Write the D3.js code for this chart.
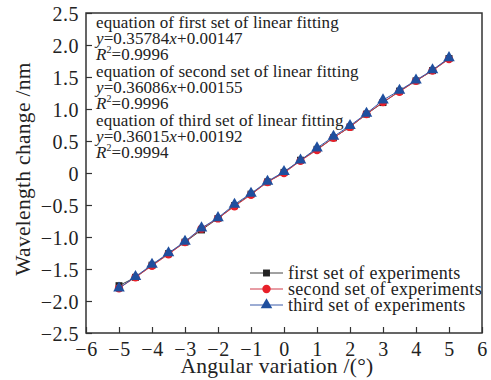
<!DOCTYPE html>
<html>
<head>
<meta charset="utf-8">
<script src="https://cdn.jsdelivr.net/npm/d3@7"></script>
<style>
  body { margin: 0; background: #fff; }
  svg text { font-family: "Liberation Serif", "DejaVu Serif", serif !important; fill: #222; }
</style>
</head>
<body>
<div id="chart"></div>
<script>
// angle steps and the three measured series
const angles = [-5, -4.5, -4, -3.5, -3, -2.5, -2, -1.5, -1, -0.5, 0, 0.5, 1, 1.5, 2, 2.5, 3, 3.5, 4, 4.5, 5];
const firstSet = [-1.76, -1.63, -1.44, -1.26, -1.08, -0.89, -0.71, -0.51, -0.33, -0.14, 0.01, 0.20, 0.37, 0.55, 0.72, 0.92, 1.10, 1.28, 1.44, 1.60, 1.79];
const secondSet = [-1.80, -1.63, -1.45, -1.27, -1.08, -0.87, -0.71, -0.52, -0.34, -0.14, 0.00, 0.19, 0.36, 0.55, 0.72, 0.92, 1.11, 1.27, 1.44, 1.60, 1.78];
const thirdSet = [-1.80, -1.62, -1.43, -1.25, -1.07, -0.86, -0.70, -0.49, -0.32, -0.13, 0.02, 0.20, 0.39, 0.57, 0.74, 0.93, 1.14, 1.29, 1.45, 1.61, 1.80];
const seriesNames = ["first set of experiments", "second set of experiments", "third set of experiments"];
const xTicks = [-6, -5, -4, -3, -2, -1, 0, 1, 2, 3, 4, 5, 6];
const yTicks = [-2.5, -2.0, -1.5, -1.0, -0.5, 0, 0.5, 1.0, 1.5, 2.0, 2.5];
const fitNames = ["first", "second", "third"];
const fitSlopes = ["0.35784", "0.36086", "0.36015"];
const fitIntercepts = ["0.00147", "0.00155", "0.00192"];
const fitR2 = ["0.9996", "0.9996", "0.9994"];

const width = 491, height = 380;
const margin = { left: 86, right: 9, top: 13, bottom: 47 };
const serif = "'Liberation Serif', 'DejaVu Serif', serif";

const svg = d3.select("#chart").append("svg")
  .attr("width", width)
  .attr("height", height)
  .attr("font-family", serif);

const x = d3.scaleLinear().domain([-6, 6]).range([margin.left, width - margin.right]);
const y = d3.scaleLinear().domain([-2.5, 2.5]).range([height - margin.bottom, margin.top]);

// axes, ticks pointing inward
const xAxis = d3.axisBottom(x).tickValues(xTicks).tickSizeInner(-6).tickSizeOuter(0)
  .tickPadding(9).tickFormat(d3.format("d"));
const yAxis = d3.axisLeft(y).tickValues(yTicks).tickSizeInner(-6).tickSizeOuter(0)
  .tickPadding(7).tickFormat(d => d === 0 ? "0" : d3.format(".1f")(d));

const gx = svg.append("g")
  .attr("transform", `translate(0, ${height - margin.bottom})`)
  .call(xAxis);
const gy = svg.append("g")
  .attr("transform", `translate(${margin.left}, 0)`)
  .call(yAxis);
[gx, gy].forEach(g => {
  g.attr("font-family", serif);
  g.select(".domain").remove();
  g.selectAll(".tick line").attr("stroke", "#333").attr("stroke-width", 1.2);
  g.selectAll(".tick text").attr("font-size", 20).attr("fill", "#222")
    .attr("letter-spacing", 0.5);
});
gy.selectAll(".tick text").attr("dy", "0.36em");

// frame
svg.append("rect")
  .attr("x", margin.left).attr("y", margin.top)
  .attr("width", width - margin.left - margin.right)
  .attr("height", height - margin.top - margin.bottom)
  .attr("fill", "none").attr("stroke", "#333").attr("stroke-width", 1.5);

// axis titles
svg.append("text")
  .attr("x", 277).attr("y", 373)
  .attr("text-anchor", "middle").attr("font-size", 21.5)
  .attr("letter-spacing", 0.3)
  .text("Angular variation /(°)");
svg.append("text")
  .attr("transform", "translate(30, 169) rotate(-90)")
  .attr("text-anchor", "middle").attr("font-size", 21.5)
  .attr("letter-spacing", 0.3)
  .text("Wavelength change /nm");

// series
const series = [
  { name: seriesNames[0], values: firstSet, color: "#222222", line: "#444444", shape: d3.symbolSquare, size: 48 },
  { name: seriesNames[1], values: secondSet, color: "#e8202a", line: "#d03a4a", shape: d3.symbolCircle, size: 55 },
  { name: seriesNames[2], values: thirdSet, color: "#1f4f9e", line: "#3b5aa8", shape: d3.symbolTriangle, size: 58 }
];

const line = d3.line()
  .x(d => x(d[0]))
  .y(d => y(d[1]));

series.forEach(s => {
  const pts = angles.map((a, i) => [a, s.values[i]]);
  svg.append("path")
    .datum(pts)
    .attr("fill", "none")
    .attr("stroke", s.line)
    .attr("stroke-width", 1)
    .attr("d", line);
  svg.append("g").selectAll("path")
    .data(pts)
    .join("path")
    .attr("transform", d => `translate(${x(d[0])}, ${y(d[1])})`)
    .attr("d", d3.symbol().type(s.shape).size(s.size))
    .attr("fill", s.color);
});

// fitting equations
const ann = svg.append("g").attr("font-size", 17).attr("letter-spacing", 0.1);
fitNames.forEach((n, i) => {
  const y0 = 28 + i * 49;
  ann.append("text").attr("x", 96).attr("y", y0)
    .text(`equation of ${n} set of linear fitting`);
  const t2 = ann.append("text").attr("x", 96).attr("y", y0 + 16);
  t2.append("tspan").attr("font-style", "italic").text("y");
  t2.append("tspan").text("=" + fitSlopes[i]);
  t2.append("tspan").attr("font-style", "italic").text("x");
  t2.append("tspan").text("+" + fitIntercepts[i]);
  const t3 = ann.append("text").attr("x", 96).attr("y", y0 + 32);
  t3.append("tspan").attr("font-style", "italic").text("R");
  t3.append("tspan").attr("font-size", 10).attr("dy", -7).text("2");
  t3.append("tspan").attr("dy", 7).text("=" + fitR2[i]);
});

// legend
const legend = svg.append("g").attr("transform", "translate(250, 273)");
series.forEach((s, i) => {
  const g = legend.append("g").attr("transform", `translate(0, ${i * 16})`);
  g.append("line").attr("x1", 0).attr("x2", 33).attr("y1", 0).attr("y2", 0)
    .attr("stroke", s.line).attr("stroke-width", 1);
  g.append("path").attr("transform", "translate(16.5, 0)")
    .attr("d", d3.symbol().type(s.shape).size(s.size))
    .attr("fill", s.color);
  g.append("text").attr("x", 38).attr("y", 0).attr("dy", "0.33em")
    .attr("font-size", 18).attr("letter-spacing", 0.3).text(s.name);
});
</script>
</body>
</html>
